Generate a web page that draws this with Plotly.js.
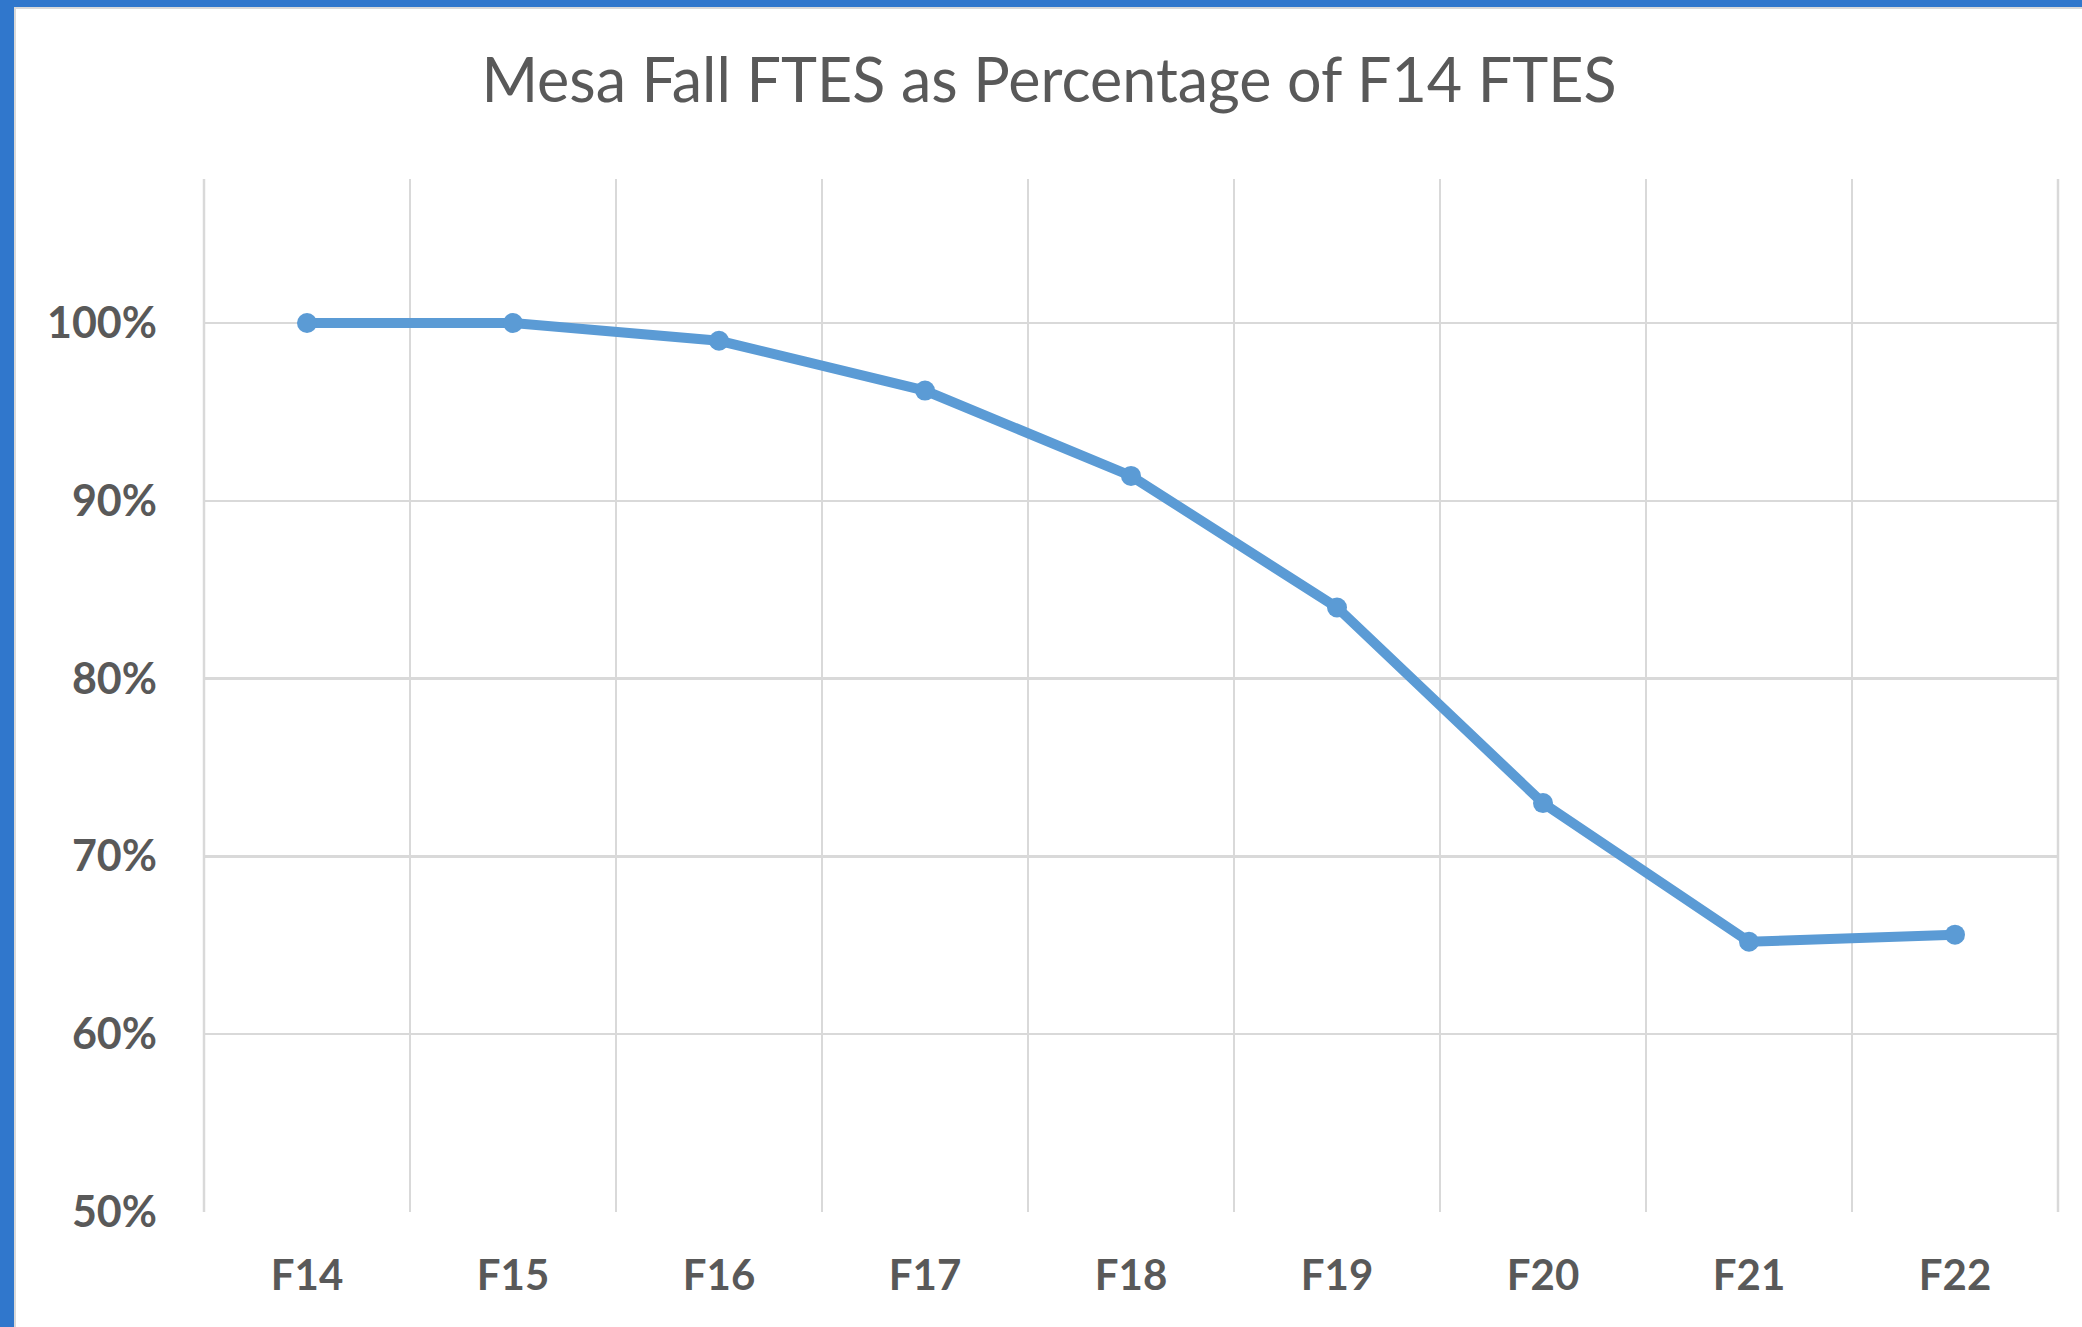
<!DOCTYPE html>
<html>
<head>
<meta charset="utf-8">
<script src="https://cdn.plot.ly/plotly-3.0.1.min.js"></script>
<style>
  html, body { margin: 0; padding: 0; background: #ffffff; overflow: hidden; }
  #frame { width: 2082px; height: 1327px; box-sizing: border-box;
           border-top: 7px solid #3077CC; border-left: 14px solid #3077CC; }
  #inner { width: 100%; height: 100%; box-sizing: border-box;
           border-top: 2px solid #D9D9D9; border-left: 2px solid #D9D9D9; }
  #chart { width: 2066px; height: 1318px; }
</style>
</head>
<body>
<div id="frame"><div id="inner"><div id="chart"></div></div></div>
<script>
const chartTitle = "Mesa Fall FTES as Percentage of F14 FTES";
const terms = ["F14", "F15", "F16", "F17", "F18", "F19", "F20", "F21", "F22"];
const pctOfF14 = [1.000, 1.000, 0.990, 0.962, 0.914, 0.840, 0.730, 0.652, 0.656];
const yTickVals = [0.5, 0.6, 0.7, 0.8, 0.9, 1.0];

const textColor = "#595959";
const gridColor = "#D9D9D9";
const lineColor = "#5B9BD5";

const trace = {
  type: "scatter",
  mode: "lines+markers",
  x: terms,
  y: pctOfF14,
  line: { color: lineColor, width: 10 },
  marker: { color: lineColor, size: 20 },
  hoverinfo: "x+y",
  showlegend: false
};

const layout = {
  width: 2066,
  height: 1318,
  paper_bgcolor: "#ffffff",
  plot_bgcolor: "#ffffff",
  margin: { l: 188, r: 24, t: 170, b: 115 },
  title: {
    text: chartTitle,
    font: { family: "Lato, 'Open Sans', sans-serif", size: 61, color: textColor },
    x: 0.5, xref: "container", xanchor: "center",
    y: 1 - 72 / 1318, yref: "container", yanchor: "middle"
  },
  xaxis: {
    type: "category",
    range: [-0.5, 8.5],
    tickson: "boundaries",
    showgrid: true,
    gridcolor: gridColor,
    gridwidth: 2.5,
    ticks: "",
    showline: false,
    zeroline: false,
    ticklabelstandoff: 35,
    tickfont: { family: "Lato, 'Open Sans', sans-serif", size: 42, color: textColor, weight: "bold" }
  },
  yaxis: {
    range: [0.5, 1.081],
    tickvals: yTickVals,
    tickformat: ".0%",
    showgrid: true,
    gridcolor: gridColor,
    gridwidth: 2.5,
    ticks: "",
    showline: false,
    zeroline: false,
    ticklabelstandoff: 46,
    tickfont: { family: "Lato, 'Open Sans', sans-serif", size: 43, color: textColor, weight: "bold" }
  },
  shapes: [
    { type: "line", xref: "paper", yref: "paper", x0: 0, x1: 0, y0: 0, y1: 1,
      line: { color: gridColor, width: 2.5 }, layer: "below" },
    { type: "line", xref: "paper", yref: "paper", x0: 1, x1: 1, y0: 0, y1: 1,
      line: { color: gridColor, width: 2.5 }, layer: "below" }
  ]
};

Plotly.newPlot("chart", [trace], layout, { displayModeBar: false, staticPlot: true });
</script>
</body>
</html>
